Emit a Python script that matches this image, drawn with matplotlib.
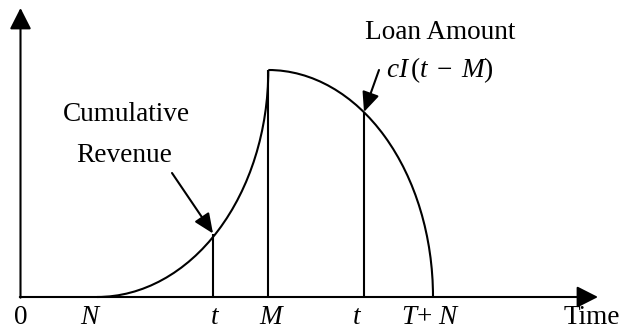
import matplotlib
matplotlib.use("Agg")
import matplotlib.pyplot as plt
from matplotlib.patches import Arc

plt.rcParams['font.family'] = ['Liberation Serif', 'DejaVu Serif']
plt.rcParams['mathtext.fontset'] = 'custom'
plt.rcParams['mathtext.rm'] = 'Liberation Serif'
plt.rcParams['mathtext.it'] = 'Liberation Serif:italic'

# key positions on the time axis (schematic units)
tick_names = ['N', 't1', 'M', 't2', 'TN']
tick_pos = [76.5, 192.5, 247.8, 343.5, 412.5]
tick_labels = ['$N$', '$t$', '$M$', '$t$', '$T$+ $N$']
tick_label_x = [70.5, 195.0, 251.5, 336.5, 409.5]
peak_height = 227
line_heights = [63.5, 227, 185]      # verticals at t1, M, t2
axis_x_end = 577.5
axis_y_end = 289

N, t1, M, t2, TN = tick_pos

fig = plt.figure(figsize=(6.21, 3.31), dpi=100)
ax = fig.add_axes([0, 0, 1, 1])
ax.set_xlim(-20.5, 600.5)
ax.set_ylim(-34, 297)
ax.axis('off')

lw = 1.5
arrow_axis = dict(arrowstyle='-|>,head_length=0.65,head_width=0.33',
                  mutation_scale=20, lw=lw, color='black',
                  shrinkA=0, shrinkB=0)
ax.annotate('', xy=(axis_x_end, 0), xytext=(-0.7, 0), arrowprops=arrow_axis)
ax.annotate('', xy=(0, axis_y_end), xytext=(0, -0.7), arrowprops=arrow_axis)

# cumulative revenue curve (N -> M) and loan curve (M -> T+N)
ax.add_patch(Arc((N, peak_height), 2 * (M - N), 2 * peak_height,
                 theta1=270, theta2=360, lw=lw, color='black'))
ax.add_patch(Arc((M, 0), 2 * (TN - M), 2 * peak_height,
                 theta1=0, theta2=90, lw=lw, color='black'))

for x, h in zip([t1, M, t2], line_heights):
    ax.plot([x, x], [0, h], color='black', lw=lw, solid_capstyle='butt')

fs = 19.6
base_y = -27.5
ax.text(0, base_y, '0', ha='center', va='baseline', fontsize=fs)
for x, lab in zip(tick_label_x, tick_labels):
    ax.text(x, base_y, lab, ha='center', va='baseline', fontsize=fs)
ax.text(571.5, base_y, 'Time', ha='center', va='baseline', fontsize=fs)

arrow_note = dict(arrowstyle='-|>,head_length=0.8,head_width=0.35',
                  mutation_scale=15, lw=lw, color='black',
                  shrinkA=0, shrinkB=0)
ax.text(105.5, 176, 'Cumulative', ha='center', va='baseline', fontsize=fs)
ax.text(103.5, 134.5, 'Revenue', ha='center', va='baseline', fontsize=fs)
ax.annotate('', xy=(t1, line_heights[0]), xytext=(151.5, 124), arrowprops=arrow_note)

ax.text(420, 258, 'Loan Amount', ha='center', va='baseline', fontsize=fs)
ax.text(419.5, 220, r'$cI\,(t\;-\;M)$', ha='center', va='baseline', fontsize=fs)
ax.annotate('', xy=(t2, line_heights[2]), xytext=(358.5, 227), arrowprops=arrow_note)

fig.savefig('out.png', dpi=100)
